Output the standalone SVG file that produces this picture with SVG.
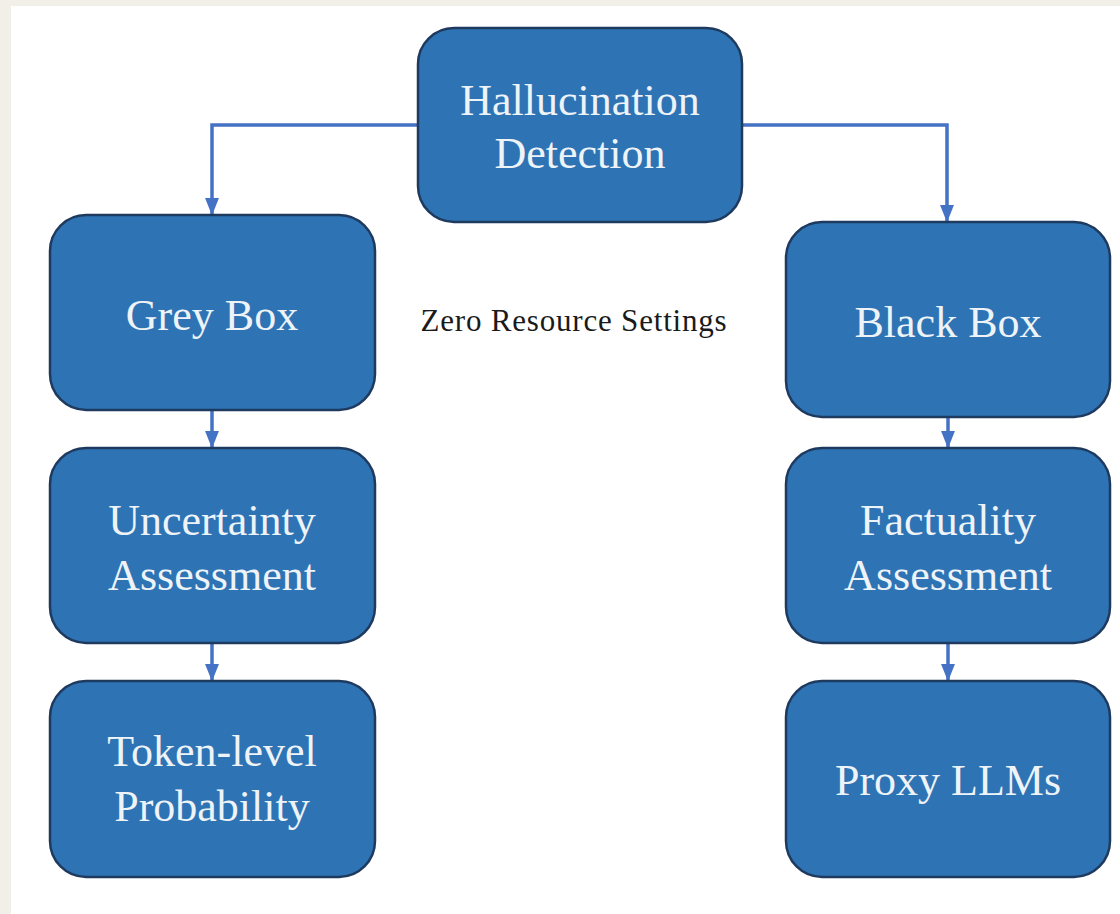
<svg xmlns="http://www.w3.org/2000/svg" width="1120" height="914" viewBox="0 0 1120 914">
<style>
.node{fill:#2e74b5;stroke:#1f3a5f;stroke-width:2.5}
.lbl{font-family:"Liberation Serif","DejaVu Serif",serif;font-size:44px;fill:#eef3f8;text-anchor:middle}
.note{font-family:"Liberation Serif","DejaVu Serif",serif;font-size:31px;letter-spacing:0.8px;fill:#1a1a1a;text-anchor:middle}
.conn{fill:none;stroke:#4472c4;stroke-width:3.5}
</style>
<defs>
<marker id="ah" markerWidth="5" markerHeight="4" refX="4.6" refY="2" orient="auto" markerUnits="strokeWidth">
<path d="M0,0 L5,2 L0,4 Z" fill="#4472c4"/>
</marker>
</defs>
<rect x="0" y="0" width="1120" height="914" fill="#f2efe8"/>
<rect x="11" y="6" width="1109" height="908" fill="#ffffff"/>
<g id="connectors">
<path class="conn" d="M418,125 H212 V214" marker-end="url(#ah)"/>
<path class="conn" d="M742,125 H947 V221" marker-end="url(#ah)"/>
<path class="conn" d="M212,410 V447" marker-end="url(#ah)"/>
<path class="conn" d="M212,643 V680" marker-end="url(#ah)"/>
<path class="conn" d="M948,418 V447" marker-end="url(#ah)"/>
<path class="conn" d="M948,643 V680" marker-end="url(#ah)"/>
</g>
<g id="hallucination-detection">
<rect class="node" x="418" y="28" width="324" height="194" rx="36"/>
<text class="lbl" x="580" y="115">Hallucination</text>
<text class="lbl" x="580" y="168">Detection</text>
</g>
<g id="grey-box">
<rect class="node" x="50" y="215" width="325" height="195" rx="36"/>
<text class="lbl" x="212" y="330">Grey Box</text>
</g>
<g id="uncertainty-assessment">
<rect class="node" x="50" y="448" width="325" height="195" rx="36"/>
<text class="lbl" x="212" y="535">Uncertainty</text>
<text class="lbl" x="212" y="590">Assessment</text>
</g>
<g id="token-level-probability">
<rect class="node" x="50" y="681" width="325" height="196" rx="36"/>
<text class="lbl" x="212" y="766">Token-level</text>
<text class="lbl" x="212" y="821">Probability</text>
</g>
<g id="black-box">
<rect class="node" x="786" y="222" width="324" height="195" rx="36"/>
<text class="lbl" x="948" y="337">Black Box</text>
</g>
<g id="factuality-assessment">
<rect class="node" x="786" y="448" width="324" height="195" rx="36"/>
<text class="lbl" x="948" y="535">Factuality</text>
<text class="lbl" x="948" y="590">Assessment</text>
</g>
<g id="proxy-llms">
<rect class="node" x="786" y="681" width="324" height="196" rx="36"/>
<text class="lbl" x="948" y="795">Proxy LLMs</text>
</g>
<text class="note" x="574" y="331">Zero Resource Settings</text>
</svg>
